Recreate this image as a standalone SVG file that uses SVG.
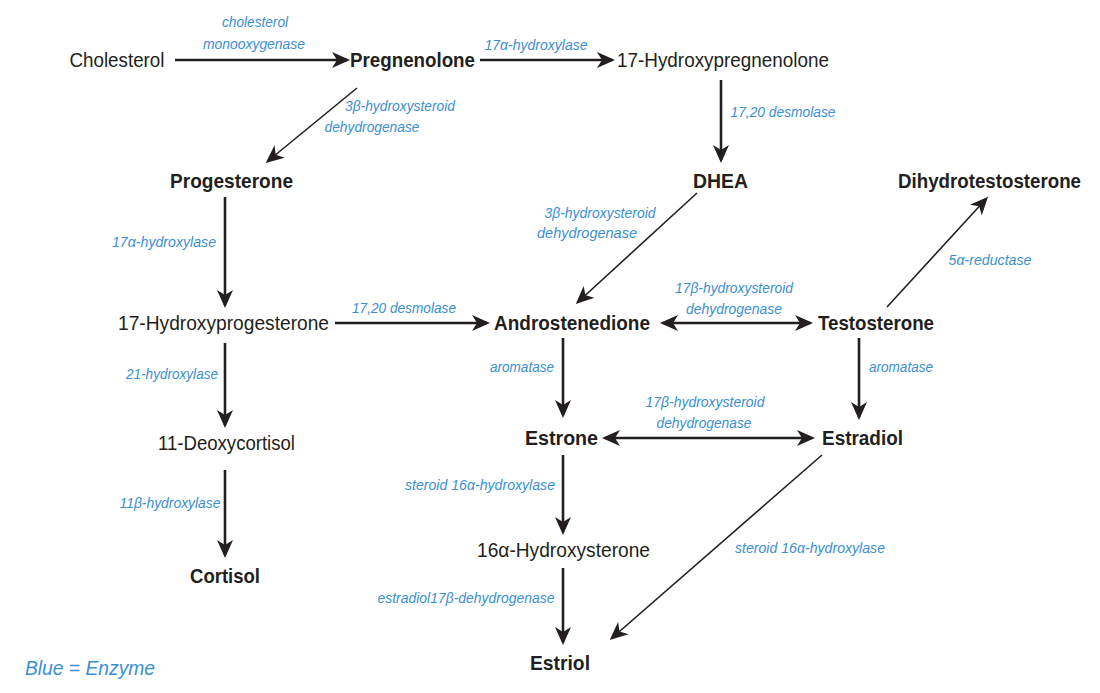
<svg xmlns="http://www.w3.org/2000/svg" width="1100" height="693" viewBox="0 0 1100 693">
<defs>
<style>
.n{font-family:"Liberation Sans",Arial,sans-serif;font-size:21px;fill:#231f20;text-anchor:middle}
.b{font-weight:bold}
.e{font-family:"Liberation Sans",Arial,sans-serif;font-size:14px;font-style:italic;fill:#3a8fd6;text-anchor:middle}
.a{stroke:#231f20;stroke-width:2.6;fill:none;marker-end:url(#ah)}
.t{stroke:#231f20;stroke-width:1.6;fill:none;marker-end:url(#ah)}
.d{marker-start:url(#ah)}
</style>
<marker id="ah" viewBox="-20 -10 22 20" refX="-3" refY="0" markerWidth="22" markerHeight="20" markerUnits="userSpaceOnUse" orient="auto-start-reverse">
<path d="M-18,-8 L0,0 L-18,8 L-13,0 Z" fill="#231f20"/>
</marker>
</defs>
<rect width="1100" height="693" fill="#ffffff"/>
<g id="connectors">
<line class="a" x1="175" y1="60" x2="347" y2="60"/>
<line class="a" x1="480" y1="60" x2="612" y2="60"/>
<line class="t" x1="357" y1="88" x2="268" y2="161"/>
<line class="a" x1="721" y1="80" x2="721" y2="160"/>
<line class="t" x1="697" y1="193" x2="578" y2="302"/>
<line class="a" x1="225" y1="197" x2="225" y2="305"/>
<line class="a" x1="335" y1="323" x2="487" y2="323"/>
<line class="a" x1="225" y1="343" x2="225" y2="425"/>
<line class="a" x1="225" y1="470" x2="225" y2="555"/>
<line class="a d" x1="663" y1="323" x2="810" y2="323"/>
<line class="a" x1="563" y1="338" x2="563" y2="415"/>
<line class="a" x1="859" y1="338" x2="859" y2="417"/>
<line class="a d" x1="605" y1="438" x2="812" y2="438"/>
<line class="t" x1="887" y1="307" x2="986" y2="199"/>
<line class="a" x1="563" y1="455" x2="563" y2="532"/>
<line class="a" x1="563" y1="568" x2="563" y2="642"/>
<line class="t" x1="822" y1="455" x2="612" y2="638"/>
</g>
<g id="cholesterol"><text class="n" x="117" y="67" textLength="95" lengthAdjust="spacingAndGlyphs">Cholesterol</text></g>
<g id="pregnenolone"><text class="n b" x="412.5" y="67" textLength="125" lengthAdjust="spacingAndGlyphs">Pregnenolone</text></g>
<g id="hydroxypregnenolone"><text class="n" x="723" y="67" textLength="212" lengthAdjust="spacingAndGlyphs">17-Hydroxypregnenolone</text></g>
<g id="progesterone"><text class="n b" x="231.5" y="188" textLength="123" lengthAdjust="spacingAndGlyphs">Progesterone</text></g>
<g id="dhea"><text class="n b" x="720.5" y="188" textLength="55" lengthAdjust="spacingAndGlyphs">DHEA</text></g>
<g id="dihydrotestosterone"><text class="n b" x="989.5" y="188" style="font-size:20px" textLength="183" lengthAdjust="spacingAndGlyphs">Dihydrotestosterone</text></g>
<g id="hydroxyprogesterone"><text class="n" x="223.5" y="330" textLength="211" lengthAdjust="spacingAndGlyphs">17-Hydroxyprogesterone</text></g>
<g id="androstenedione"><text class="n b" x="572" y="330" textLength="156" lengthAdjust="spacingAndGlyphs">Androstenedione</text></g>
<g id="testosterone"><text class="n b" x="876" y="330" textLength="116" lengthAdjust="spacingAndGlyphs">Testosterone</text></g>
<g id="deoxycortisol"><text class="n" x="226.5" y="450" textLength="137" lengthAdjust="spacingAndGlyphs">11-Deoxycortisol</text></g>
<g id="estrone"><text class="n b" x="561.5" y="445" textLength="73" lengthAdjust="spacingAndGlyphs">Estrone</text></g>
<g id="estradiol"><text class="n b" x="862.5" y="445" textLength="81" lengthAdjust="spacingAndGlyphs">Estradiol</text></g>
<g id="cortisol"><text class="n b" x="225" y="583" textLength="70" lengthAdjust="spacingAndGlyphs">Cortisol</text></g>
<g id="hydroxysterone"><text class="n" x="563.5" y="557" textLength="173" lengthAdjust="spacingAndGlyphs">16α-Hydroxysterone</text></g>
<g id="estriol"><text class="n b" x="560" y="670" textLength="60" lengthAdjust="spacingAndGlyphs">Estriol</text></g>
<g id="enzymes">
<text class="e" x="255" y="27" textLength="66" lengthAdjust="spacingAndGlyphs">cholesterol</text>
<text class="e" x="254" y="49" textLength="102" lengthAdjust="spacingAndGlyphs">monooxygenase</text>
<text class="e" x="536" y="50" textLength="103" lengthAdjust="spacingAndGlyphs">17α-hydroxylase</text>
<text class="e" x="400" y="111" textLength="110" lengthAdjust="spacingAndGlyphs">3β-hydroxysteroid</text>
<text class="e" x="372" y="132" textLength="95" lengthAdjust="spacingAndGlyphs">dehydrogenase</text>
<text class="e" x="783" y="117" textLength="105" lengthAdjust="spacingAndGlyphs">17,20 desmolase</text>
<text class="e" x="600" y="218" textLength="111" lengthAdjust="spacingAndGlyphs">3β-hydroxysteroid</text>
<text class="e" x="587" y="238" textLength="100" lengthAdjust="spacingAndGlyphs">dehydrogenase</text>
<text class="e" x="990" y="265" textLength="83" lengthAdjust="spacingAndGlyphs">5α-reductase</text>
<text class="e" x="164" y="247" textLength="104" lengthAdjust="spacingAndGlyphs">17α-hydroxylase</text>
<text class="e" x="404" y="313" textLength="104" lengthAdjust="spacingAndGlyphs">17,20 desmolase</text>
<text class="e" x="172" y="379" textLength="92" lengthAdjust="spacingAndGlyphs">21-hydroxylase</text>
<text class="e" x="734" y="293" textLength="118" lengthAdjust="spacingAndGlyphs">17β-hydroxysteroid</text>
<text class="e" x="734" y="314" textLength="96" lengthAdjust="spacingAndGlyphs">dehydrogenase</text>
<text class="e" x="522" y="372" textLength="64" lengthAdjust="spacingAndGlyphs">aromatase</text>
<text class="e" x="901" y="372" textLength="64" lengthAdjust="spacingAndGlyphs">aromatase</text>
<text class="e" x="705" y="407" textLength="119" lengthAdjust="spacingAndGlyphs">17β-hydroxysteroid</text>
<text class="e" x="704" y="428" textLength="95" lengthAdjust="spacingAndGlyphs">dehydrogenase</text>
<text class="e" x="170" y="508" textLength="101" lengthAdjust="spacingAndGlyphs">11β-hydroxylase</text>
<text class="e" x="480" y="490" textLength="150" lengthAdjust="spacingAndGlyphs">steroid 16α-hydroxylase</text>
<text class="e" x="810" y="553" textLength="150" lengthAdjust="spacingAndGlyphs">steroid 16α-hydroxylase</text>
<text class="e" x="466" y="603" textLength="177" lengthAdjust="spacingAndGlyphs">estradiol17β-dehydrogenase</text>
</g>
<g id="legend"><text class="e" x="90" y="675" style="font-size:20px" textLength="130" lengthAdjust="spacingAndGlyphs">Blue = Enzyme</text></g>
</svg>
